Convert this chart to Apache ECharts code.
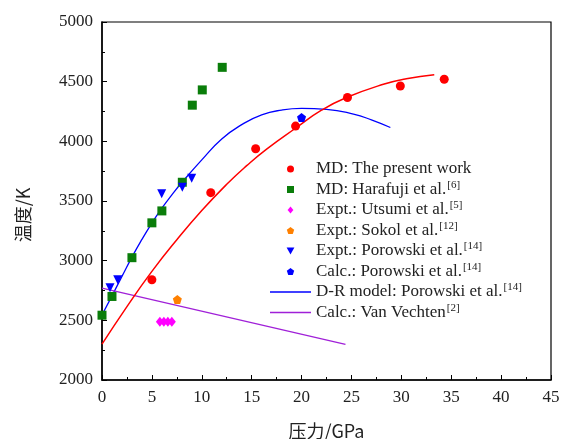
<!DOCTYPE html>
<html>
<head>
<meta charset="utf-8">
<script src="https://cdn.jsdelivr.net/npm/echarts@6/dist/echarts.min.js"></script>
<style>
  html, body { margin: 0; padding: 0; background: #fff; }
  #chart { width: 563px; height: 439px; }
</style>
</head>
<body>
<div id="chart"></div>
<script>
// 数据点（压力 GPa, 温度 K）
var mdPresent = [[5.0, 2840], [10.9, 3570], [15.4, 3938], [19.4, 4128], [24.6, 4367], [29.9, 4464], [34.3, 4520]];
var mdHarafuji = [[0, 2543], [1.0, 2700], [3.0, 3025], [5.0, 3317], [6.0, 3417], [8.05, 3657], [9.05, 4303], [10.05, 4431], [12.05, 4620]];
var exptUtsumi = [[5.8, 2488], [6.2, 2488], [6.6, 2488], [7.0, 2488]];
var exptSokol = [[7.55, 2674]];
var exptPorowski = [[0.8, 2774], [1.57, 2841], [5.98, 3560], [8.05, 3615], [8.99, 3690]];
var calcPorowski = [[20.0, 4200]];
// 曲线
var mdFit = [[0, 2300], [2.5, 2615], [5, 2910], [7.5, 3175], [10, 3420], [12.5, 3640], [14.5, 3796], [16.5, 3935], [19.5, 4116], [22, 4261], [24.5, 4367], [28.2, 4478], [30.5, 4525], [33.3, 4558]];
var drModel = [[0, 2545], [1, 2705], [2, 2868], [3, 3030], [4, 3178], [5, 3315], [6, 3440], [7, 3552], [8, 3655], [10, 3845], [12, 4020], [14, 4140], [16, 4222], [18, 4262], [20, 4276], [22.5, 4268], [25.2, 4228], [27, 4180], [28.9, 4116]];
var vanVechten = [[0, 2770], [24.4, 2298]];

var legendNames = ['MD: The present work', 'MD: Harafuji et al.', 'Expt.: Utsumi et al.', 'Expt.: Sokol et al.',
    'Expt.: Porowski et al.', 'Calc.: Porowski et al.', 'D-R model: Porowski et al.', 'Calc.: Van Vechten'];
var legendRefs = ['', '[6]', '[5]', '[12]', '[14]', '[14]', '[14]', '[2]'];

var serif = '"Liberation Serif", "DejaVu Serif", serif';
var pentagon = 'path://M0,-10 L9.51,-3.09 L5.88,8.09 L-5.88,8.09 L-9.51,-3.09 Z';
var legendIcons = [
    'circle',
    'path://M0,0 H10 V10 H0 Z',
    'path://M5,0 L10,6 L5,12 L0,6 Z',
    pentagon,
    'path://M0,0 H10 L5,9 Z',
    pentagon,
    'path://M0,0 H40 V1.4 H0 Z',
    'path://M0,0 H40 V1.4 H0 Z'
];

var chart = echarts.init(document.getElementById('chart'));

var axisCommon = {
    axisLine: { lineStyle: { color: '#000', width: 1.5 } },
    axisTick: { inside: true, length: 5, lineStyle: { color: '#000' } },
    minorTick: { show: true, splitNumber: 2, length: 3, lineStyle: { color: '#000' } },
    axisLabel: { fontFamily: serif, fontSize: 17, color: '#222', margin: 9, formatter: function (v) { return String(v); } },
    splitLine: { show: false }
};

var option = {
    animation: false,
    grid: {
        left: 102, right: 12, top: 22, bottom: 59,
        outerBoundsMode: 'none',
        show: true, borderColor: '#000', borderWidth: 1.2
    },
    legend: {
        left: 265, top: 154,
        orient: 'vertical',
        itemWidth: 41, itemHeight: 7,
        itemGap: 0.5,
        symbolRotate: 0,
        data: legendNames.map(function (n, i) {
            return { name: n, icon: legendIcons[i] };
        }),
        formatter: function (name) {
            var i = legendNames.indexOf(name);
            return '{t|' + name + '}' + (legendRefs[i] ? '{s|' + legendRefs[i] + '}' : '');
        },
        textStyle: {
            fontFamily: serif, fontSize: 17, color: '#222',
            rich: {
                t: { fontFamily: serif, fontSize: 17, color: '#222', lineHeight: 20, height: 20 },
                s: { fontFamily: serif, fontSize: 11, color: '#222', lineHeight: 10, verticalAlign: 'top', padding: [0, 0, 0, 1] }
            }
        }
    },
    xAxis: Object.assign({
        type: 'value', min: 0, max: 45, interval: 5,
        name: '压力/GPa', nameLocation: 'middle', nameGap: 42,
        nameTextStyle: { fontFamily: '"Noto Sans CJK SC", serif', fontSize: 18, color: '#222' }
    }, axisCommon),
    yAxis: Object.assign({
        type: 'value', min: 2000, max: 5000, interval: 500,
        name: '温度/K', nameLocation: 'middle', nameGap: 70, nameRotate: 90,
        nameTextStyle: { fontFamily: '"Noto Sans CJK SC", serif', fontSize: 18, color: '#222', padding: [0, 28, 0, 0] }
    }, axisCommon),
    series: [
        { name: legendNames[0], type: 'scatter', data: mdPresent, symbol: 'circle', symbolSize: 9, itemStyle: { color: '#ff0000', opacity: 1 } },
        { name: legendNames[1], type: 'scatter', data: mdHarafuji, symbol: 'rect', symbolSize: 9, itemStyle: { color: '#0a7d0a', opacity: 1 } },
        { name: legendNames[2], type: 'scatter', data: exptUtsumi, symbol: 'diamond', symbolSize: [8, 10], itemStyle: { color: '#ff00ff', opacity: 1 } },
        { name: legendNames[3], type: 'scatter', data: exptSokol, symbol: pentagon, symbolSize: 9, itemStyle: { color: '#ff8000', opacity: 1 } },
        { name: legendNames[4], type: 'scatter', data: exptPorowski, symbol: 'triangle', symbolRotate: 180, symbolSize: 9, itemStyle: { color: '#0000ff', opacity: 1 } },
        { name: legendNames[5], type: 'scatter', data: calcPorowski, symbol: pentagon, symbolSize: 9, itemStyle: { color: '#0000ff', opacity: 1 } },
        { name: legendNames[6], type: 'line', data: drModel, smooth: true, symbol: 'none', lineStyle: { color: '#0000ff', width: 1.3 }, itemStyle: { color: '#0000ff' }, z: 1 },
        { name: legendNames[7], type: 'line', data: vanVechten, symbol: 'none', lineStyle: { color: '#a020d8', width: 1.3 }, itemStyle: { color: '#a020d8' }, z: 1 },
        { name: 'fit', type: 'line', data: mdFit, smooth: true, symbol: 'none', lineStyle: { color: '#ff0000', width: 1.5 }, itemStyle: { color: '#ff0000' }, z: 1 }
    ]
};

chart.setOption(option);
</script>
</body>
</html>
